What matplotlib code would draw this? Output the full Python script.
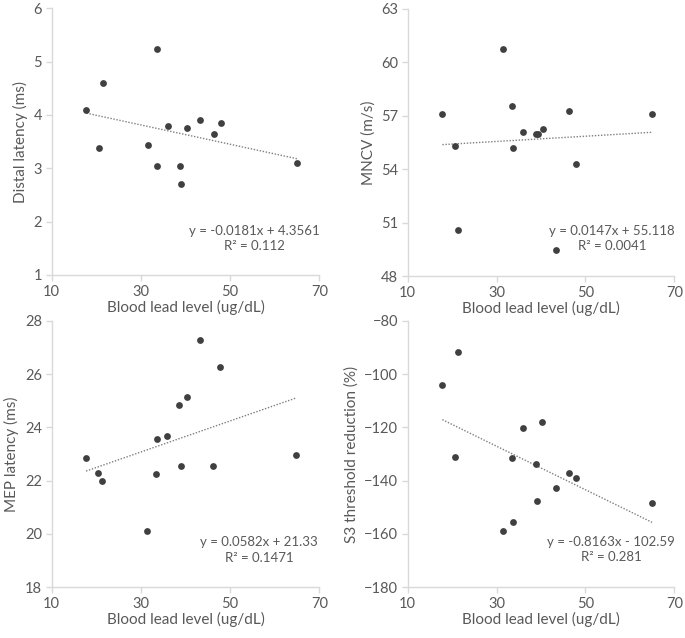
import matplotlib
matplotlib.use("Agg")
import matplotlib.pyplot as plt
import numpy as np

plt.rcParams['font.family'] = ['Lato', 'DejaVu Sans']

# Data
blood_lead = [17.8, 20.6, 21.4, 31.5, 33.5, 33.7, 36.0, 38.8, 39.2, 40.4, 43.3, 46.4, 47.9, 65.0]

# Panel x-orders differ slightly; each panel has its own x list for exact placement
distal_x = [17.8, 20.6, 21.4, 31.5, 33.5, 33.7, 36.0, 38.8, 39.1, 40.4, 43.3, 46.4, 47.9, 65.0]
distal_y = [4.09, 3.39, 4.60, 3.44, 3.05, 5.24, 3.80, 3.05, 2.70, 3.75, 3.90, 3.64, 3.85, 3.10]

mncv_x = [17.8, 20.6, 21.3, 31.5, 33.5, 33.8, 36.0, 38.8, 39.3, 40.4, 43.4, 46.4, 47.9, 65.0]
mncv_y = [57.08, 55.28, 50.57, 60.77, 57.57, 55.17, 56.07, 55.98, 55.98, 56.28, 49.46, 57.26, 54.27, 57.08]

mep_x = [17.7, 20.4, 21.2, 31.4, 33.3, 33.6, 35.9, 38.6, 39.1, 40.3, 43.2, 46.2, 47.7, 64.8]
mep_y = [22.85, 22.27, 21.99, 20.12, 22.26, 23.55, 23.69, 24.85, 22.55, 25.14, 27.29, 22.55, 26.27, 22.98]

s3_x = [17.8, 20.6, 21.3, 31.5, 33.5, 33.7, 36.0, 38.8, 39.2, 40.3, 43.3, 46.3, 47.9, 65.0]
s3_y = [-104.0, -131.1, -91.9, -159.0, -131.4, -155.5, -120.4, -133.6, -147.7, -118.1, -142.9, -137.2, -139.0, -148.5]

slopes = [-0.0181, 0.0147, 0.0582, -0.8163]
intercepts = [4.3561, 55.118, 21.33, -102.59]
eq_texts = ["y = -0.0181x + 4.3561\nR² = 0.112",
            "y = 0.0147x + 55.118\nR² = 0.0041",
            "y = 0.0582x + 21.33\nR² = 0.1471",
            "y = -0.8163x - 102.59\nR² = 0.281"]
ylabels = ["Distal latency (ms)", "MNCV (m/s)", "MEP latency (ms)", "S3 threshold reduction (%)"]
yticks = [[1, 2, 3, 4, 5, 6], [48, 51, 54, 57, 60, 63],
          [18, 20, 22, 24, 26, 28], [-180, -160, -140, -120, -100, -80]]
xticks = [10, 30, 50, 70]
xlabel = "Blood lead level (ug/dL)"

W, H = 685, 638
fig = plt.figure(figsize=(W / 100, H / 100), dpi=100)

# axes rectangles in pixels: left, top, right, bottom
rects = [(51.7, 8.3, 319.3, 275.0),
         (407.7, 9.0, 674.3, 276.0),
         (51.7, 320.7, 319.3, 587.3),
         (407.7, 320.7, 674.3, 587.3)]
ann_pos = [(0.758, 0.137), (0.766, 0.14), (0.775, 0.14), (0.764, 0.142)]

xs = [distal_x, mncv_x, mep_x, s3_x]
ys = [distal_y, mncv_y, mep_y, s3_y]

spine_c = '#d9d9d9'
text_c = '#595959'

for i in range(4):
    l, t, r, b = rects[i]
    ax = fig.add_axes([l / W, 1 - b / H, (r - l) / W, (b - t) / H])
    ax.scatter(xs[i], ys[i], s=24, color='#404040', zorder=3, linewidths=0)
    xline = np.array([min(xs[i]), max(xs[i])])
    ax.plot(xline, slopes[i] * xline + intercepts[i], color='#7f7f7f',
            linestyle=(0, (1, 1.2)), linewidth=1.0, zorder=2)
    ax.set_xlim(10, 70)
    ax.set_ylim(yticks[i][0], yticks[i][-1])
    ax.set_xticks(xticks)
    ax.set_yticks(yticks[i])
    for sp in ['top', 'right']:
        ax.spines[sp].set_visible(False)
    for sp in ['left', 'bottom']:
        ax.spines[sp].set_color(spine_c)
        ax.spines[sp].set_linewidth(1.0)
    ax.tick_params(axis='both', colors=spine_c, labelcolor=text_c, labelsize=10.5,
                   length=4, width=1.0, direction='out', pad=3)
    ax.set_xlabel(xlabel, fontsize=11, color=text_c, labelpad=1)
    ax.set_ylabel(ylabels[i], fontsize=11, color=text_c, labelpad=4)
    ax.text(ann_pos[i][0], ann_pos[i][1], eq_texts[i], transform=ax.transAxes,
            ha='center', va='center', multialignment='center', fontsize=9.5,
            color=text_c, linespacing=1.35)

fig.savefig('out.png', dpi=100)
